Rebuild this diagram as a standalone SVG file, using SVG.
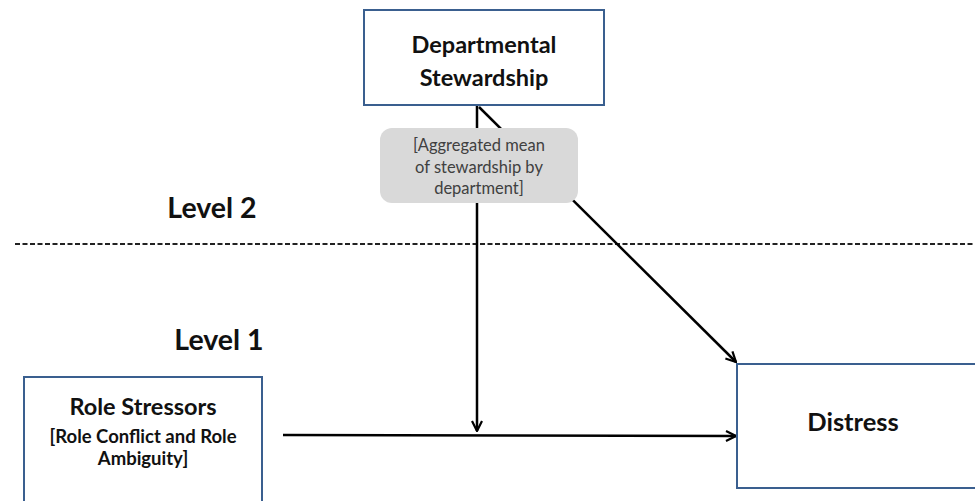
<svg xmlns="http://www.w3.org/2000/svg" width="975" height="501" viewBox="0 0 975 501">
<style>
.box{fill:#fff;stroke:#3a5f8f;stroke-width:2}
.t{font-family:Lato,"Liberation Sans",sans-serif;font-weight:bold;fill:#111;text-anchor:middle}
.c{stroke:#000;stroke-width:2.5;fill:none}
.note{font-family:Lato,"Liberation Sans",sans-serif;fill:#404040;text-anchor:middle;font-size:16.5px}
</style>
<defs>
<marker id="ah" viewBox="0 0 12 12" refX="11" refY="6" markerWidth="12" markerHeight="12" markerUnits="userSpaceOnUse" orient="auto">
<path d="M1,1 L11,6 L1,11" fill="none" stroke="#000" stroke-width="2.2"/>
</marker>
</defs>
<g id="levels">
<line x1="15" y1="244" x2="975" y2="244" stroke="#222" stroke-width="2.2" stroke-dasharray="5 2.5"/>
<text class="t" x="212" y="218" font-size="28.5">Level 2</text>
<text class="t" x="219" y="350" font-size="28.5">Level 1</text>
</g>
<g id="connectors">
<line class="c" x1="477" y1="106" x2="477" y2="431" marker-end="url(#ah)"/>
<line class="c" x1="479" y1="107" x2="736" y2="362" marker-end="url(#ah)"/>
<line class="c" x1="283" y1="435" x2="736" y2="436" marker-end="url(#ah)"/>
</g>
<g id="stewardship">
<rect class="box" x="364" y="10" width="240" height="95"/>
<text class="t" x="484" y="53" font-size="23.5">Departmental</text>
<text class="t" x="484" y="86" font-size="23.5">Stewardship</text>
</g>
<g id="aggregated">
<rect x="380" y="128" width="198" height="75" rx="12" fill="#d9d9d9"/>
<text class="note" x="479" y="151">[Aggregated mean</text>
<text class="note" x="479" y="173">of stewardship by</text>
<text class="note" x="479" y="194">department]</text>
</g>
<g id="role-stressors">
<rect class="box" x="24" y="377" width="238" height="140"/>
<text class="t" x="143" y="415" font-size="23.5">Role Stressors</text>
<text class="t" x="143" y="443" font-size="18.5">[Role Conflict and Role</text>
<text class="t" x="143" y="465" font-size="18.5">Ambiguity]</text>
</g>
<g id="distress">
<rect class="box" x="737" y="364" width="260" height="124"/>
<text class="t" x="853" y="431" font-size="25.5">Distress</text>
</g>
</svg>
